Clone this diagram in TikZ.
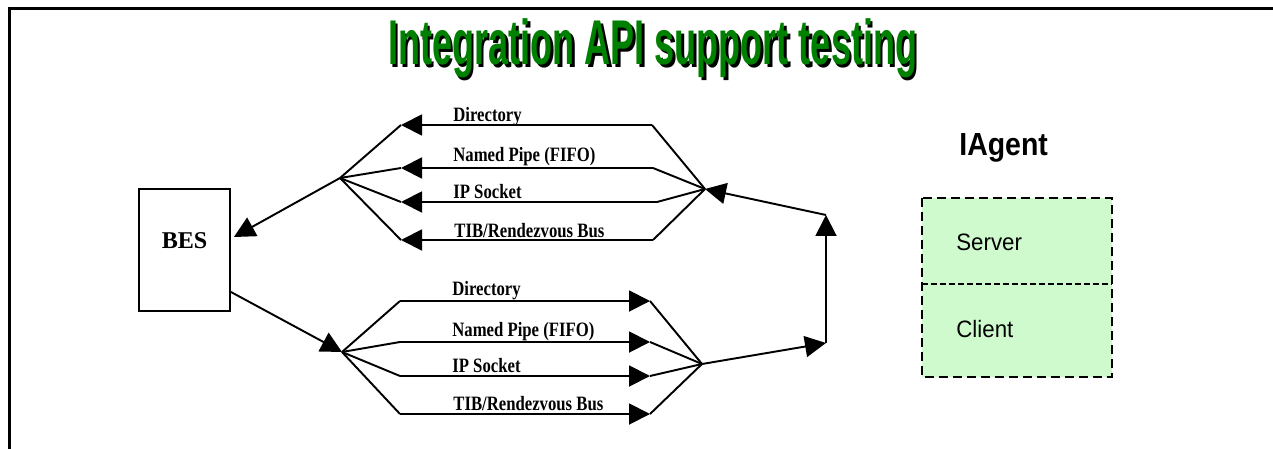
\documentclass[tikz,border=0pt]{standalone}
\usepackage{fontspec}
\setmainfont{Liberation Serif}
\newfontfamily\arialfont{Liberation Sans}
\usetikzlibrary{arrows.meta}
\definecolor{titlegreen}{RGB}{0,128,0}
\definecolor{agentgreen}{RGB}{206,250,206}
\newcommand{\squeeze}[2]{\scalebox{#1}[1]{#2}}

\begin{document}
\begin{tikzpicture}[x=0.02cm, y=-0.02cm,
        flow/.style={line width=1.1pt, -{Triangle[length=0.42cm,width=0.42cm]}},
        wire/.style={line width=1.1pt},
        lbl/.style={anchor=base west, inner sep=0pt, font=\fontsize{11.6}{13}\selectfont\bfseries},
        sans/.style={anchor=base west, inner sep=0pt}]
        \useasboundingbox (0,0) rectangle (1273,449);

        \draw[line width=1.7pt] (9.5,449) -- (9.5,8.5) -- (1273,8.5);

        % title with its shadow
        \node[sans, text=black, font=\arialfont\bfseries\fontsize{36}{40}\selectfont] (titleshadow) at (390.5,67.5) {\squeeze{0.57}{Integration API support testing}};
        \node[sans, text=titlegreen, font=\arialfont\bfseries\fontsize{36}{40}\selectfont] (title) at (388,65) {\squeeze{0.57}{Integration API support testing}};

        \node[draw, line width=1.1pt, minimum width=1.82cm, minimum height=2.44cm, text height=0.32cm, text depth=0.4cm, font=\fontsize{13.7}{15}\selectfont\bfseries] (bes) at (184.5,250) {BES};

        % upper group, back to BES
        \coordinate (ufan) at (340,178);
        \coordinate (uconv) at (705,189);
        \draw[flow] (ufan) -- ([xshift=0.06cm,yshift=0.26cm]bes.east);

        \coordinate (u1a) at (401,125); \coordinate (u1b) at (652,125);
        \coordinate (u2a) at (401,168); \coordinate (u2b) at (653,168);
        \coordinate (u3a) at (401,202); \coordinate (u3b) at (657,202);
        \coordinate (u4a) at (401,240); \coordinate (u4b) at (653,240);

        \draw[wire] (ufan) -- (u1a);  \draw[flow] (u1b) -- (u1a);  \draw[wire] (uconv) -- (u1b);
        \draw[wire] (ufan) -- (u2a);  \draw[flow] (u2b) -- (u2a);  \draw[wire] (uconv) -- (u2b);
        \draw[wire] (ufan) -- (u3a);  \draw[flow] (u3b) -- (u3a);  \draw[wire] (uconv) -- (u3b);
        \draw[wire] (ufan) -- (u4a);  \draw[flow] (u4b) -- (u4a);  \draw[wire] (uconv) -- (u4b);

        \node[lbl] (udir) at (453,122) {\squeeze{0.82}{Directory}};
        \node[lbl] (upipe) at (453,162) {\squeeze{0.82}{Named Pipe (FIFO)}};
        \node[lbl] (usock) at (453,198) {\squeeze{0.82}{IP Socket}};
        \node[lbl] (ubus) at (454,237) {\squeeze{0.82}{TIB/Rendezvous Bus}};

        % lower group, out of BES
        \coordinate (lfan) at (342,352);
        \coordinate (lconv) at (702,364);
        \draw[flow] ([yshift=-0.84cm]bes.east) -- (lfan);

        \coordinate (l1a) at (400,301); \coordinate (l1b) at (650,301);
        \coordinate (l2a) at (400,342); \coordinate (l2b) at (650,342);
        \coordinate (l3a) at (400,376); \coordinate (l3b) at (650,376);
        \coordinate (l4a) at (400,414); \coordinate (l4b) at (650,414);

        \draw[wire] (lfan) -- (l1a);  \draw[flow] (l1a) -- (l1b);  \draw[wire] (l1b) -- (lconv);
        \draw[wire] (lfan) -- (l2a);  \draw[flow] (l2a) -- (l2b);  \draw[wire] (l2b) -- (lconv);
        \draw[wire] (lfan) -- (l3a);  \draw[flow] (l3a) -- (l3b);  \draw[wire] (l3b) -- (lconv);
        \draw[wire] (lfan) -- (l4a);  \draw[flow] (l4a) -- (l4b);  \draw[wire] (l4b) -- (lconv);

        \node[lbl] (ldir) at (452,295) {\squeeze{0.82}{Directory}};
        \node[lbl] (lpipe) at (452,336) {\squeeze{0.82}{Named Pipe (FIFO)}};
        \node[lbl] (lsock) at (452,372) {\squeeze{0.82}{IP Socket}};
        \node[lbl] (lbus) at (453,410) {\squeeze{0.82}{TIB/Rendezvous Bus}};

        % loop on the right
        \coordinate (rbot) at (826,343);
        \coordinate (rtop) at (826,215);
        \draw[flow] (lconv) -- (rbot);
        \draw[flow] (rbot) -- (rtop);
        \draw[flow] (rtop) -- (uconv);

        % IAgent
        \node[sans, font=\arialfont\bfseries\fontsize{18.2}{20}\selectfont] (iagent) at (959,155) {\squeeze{0.89}{IAgent}};
        \fill[agentgreen] (922,198) rectangle (1112,377);
        \draw[line width=1.6pt, dash pattern=on 0.18cm off 0.1cm] (922,198) rectangle (1112,377);
        \draw[line width=0.8pt, dash pattern=on 0.12cm off 0.06cm] (922,284) -- (1112,284);
        \node[sans, font=\arialfont\fontsize{13.5}{15}\selectfont] (server) at (956,250) {\squeeze{0.94}{Server}};
        \node[sans, font=\arialfont\fontsize{13.5}{15}\selectfont] (client) at (956,337) {\squeeze{0.94}{Client}};
    \end{tikzpicture}
\end{document}
